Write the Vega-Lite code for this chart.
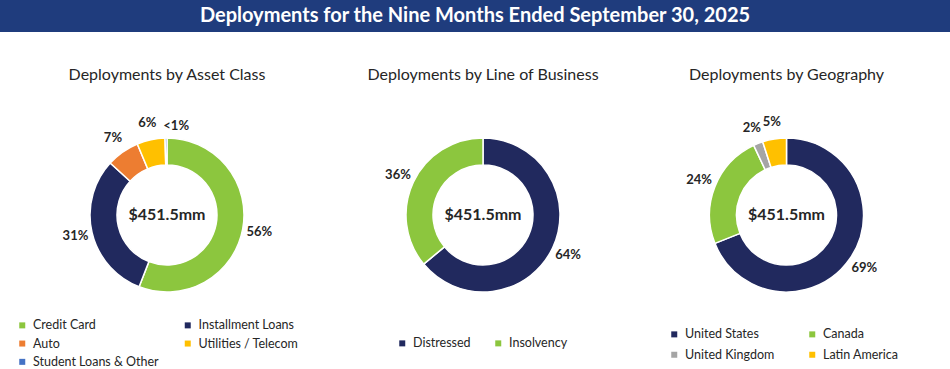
{
  "$schema": "https://vega.github.io/schema/vega-lite/v6.json",
  "padding": 0,
  "background": "white",
  "spacing": 35,
  "config": {
    "font": "Lato",
    "view": {"stroke": null},
    "title": {"fontSize": 16, "fontWeight": "normal", "color": "#262626", "anchor": "middle", "font": "Lato", "offset": 2},
    "legend": {"orient": "none", "columns": 2, "symbolType": "square", "symbolSize": 36, "symbolStrokeWidth": 0, "labelFontSize": 12.5, "labelColor": "#262626", "labelFont": "Lato", "labelOffset": 4.5, "padding": 0, "title": null}
  },
  "datasets": {
    "header": [{"t": "Deployments for the Nine Months Ended September 30, 2025"}],
    "asset": [
      {"i": 1, "category": "Credit Card", "value": 55.9, "label": "56%"},
      {"i": 2, "category": "Installment Loans", "value": 30.9, "label": "31%"},
      {"i": 3, "category": "Auto", "value": 6.9, "label": "7%"},
      {"i": 4, "category": "Utilities / Telecom", "value": 5.9, "label": "6%"},
      {"i": 5, "category": "Student Loans & Other", "value": 0.4, "label": "<1%"}
    ],
    "lob": [
      {"i": 1, "category": "Distressed", "value": 64, "label": "64%"},
      {"i": 2, "category": "Insolvency", "value": 36, "label": "36%"}
    ],
    "geo": [
      {"i": 1, "category": "United States", "value": 69, "label": "69%"},
      {"i": 2, "category": "Canada", "value": 24, "label": "24%"},
      {"i": 3, "category": "United Kingdom", "value": 2, "label": "2%"},
      {"i": 4, "category": "Latin America", "value": 5, "label": "5%"}
    ],
    "total": [{"t": "$451.5mm"}]
  },
  "resolve": {"scale": {"color": "independent", "theta": "independent"}, "legend": {"color": "independent"}},
  "vconcat": [
    {
      "data": {"name": "header"},
      "width": 950,
      "height": 32,
      "view": {"fill": "#1f3c7d", "stroke": null},
      "mark": {"type": "text", "color": "white", "fontSize": 20, "fontWeight": "bold", "font": "Lato"},
      "encoding": {"text": {"field": "t", "type": "nominal"}}
    },
    {
      "spacing": 0,
      "resolve": {"scale": {"color": "independent", "theta": "independent"}, "legend": {"color": "independent"}},
      "hconcat": [
        {
          "width": 334,
          "height": 260,
          "title": "Deployments by Asset Class",
          "layer": [
            {
              "data": {"name": "asset"},
              "mark": {"type": "arc", "innerRadius": 50, "outerRadius": 77, "stroke": "white", "strokeWidth": 1.5},
              "encoding": {
                "theta": {"field": "value", "type": "quantitative", "stack": true},
                "order": {"field": "i", "type": "quantitative"},
                "color": {
                  "field": "category", "type": "nominal", "sort": null,
                  "scale": {"domain": ["Credit Card", "Auto", "Student Loans & Other", "Installment Loans", "Utilities / Telecom"], "range": ["#8cc63e", "#ed7d31", "#4472c4", "#21295e", "#ffc000"]},
                  "legend": {"legendX": 16, "legendY": 234, "columnPadding": 22.5, "rowPadding": 5.3}
                }
              }
            },
            {
              "data": {"name": "asset"},
              "transform": [{"filter": "datum.i != 5"}],
              "mark": {"type": "text", "radius": 94, "fontWeight": "bold", "fontSize": 13, "color": "#262626", "align": "center", "baseline": "middle"},
              "encoding": {
                "theta": {"field": "value", "type": "quantitative", "stack": true},
                "order": {"field": "i", "type": "quantitative"},
                "detail": {"field": "category", "type": "nominal"},
                "text": {"field": "label", "type": "nominal"}
              }
            },
            {
              "data": {"name": "asset"},
              "transform": [{"filter": "datum.i == 5"}],
              "mark": {"type": "text", "radius": 94, "dx": 8, "dy": 5, "fontWeight": "bold", "fontSize": 13, "color": "#262626", "align": "center", "baseline": "middle"},
              "encoding": {
                "theta": {"field": "value", "type": "quantitative", "stack": true},
                "text": {"field": "label", "type": "nominal"}
              }
            },
            {
              "data": {"name": "total"},
              "mark": {"type": "text", "fontWeight": "bold", "fontSize": 16, "color": "#262626"},
              "encoding": {"text": {"field": "t", "type": "nominal"}}
            }
          ]
        },
        {
          "width": 298,
          "height": 260,
          "title": "Deployments by Line of Business",
          "layer": [
            {
              "data": {"name": "lob"},
              "mark": {"type": "arc", "innerRadius": 50, "outerRadius": 77, "stroke": "white", "strokeWidth": 1.5},
              "encoding": {
                "theta": {"field": "value", "type": "quantitative", "stack": true},
                "order": {"field": "i", "type": "quantitative"},
                "color": {
                  "field": "category", "type": "nominal", "sort": null,
                  "scale": {"domain": ["Distressed", "Insolvency"], "range": ["#21295e", "#8cc63e"]},
                  "legend": {"legendX": 62, "legendY": 252, "columnPadding": 21, "rowPadding": 5.3}
                }
              }
            },
            {
              "data": {"name": "lob"},
              "mark": {"type": "text", "radius": 94, "fontWeight": "bold", "fontSize": 13, "color": "#262626", "align": "center", "baseline": "middle"},
              "encoding": {
                "theta": {"field": "value", "type": "quantitative", "stack": true},
                "order": {"field": "i", "type": "quantitative"},
                "detail": {"field": "category", "type": "nominal"},
                "text": {"field": "label", "type": "nominal"}
              }
            },
            {
              "data": {"name": "total"},
              "mark": {"type": "text", "fontWeight": "bold", "fontSize": 16, "color": "#262626"},
              "encoding": {"text": {"field": "t", "type": "nominal"}}
            }
          ]
        },
        {
          "width": 309,
          "height": 260,
          "title": "Deployments by Geography",
          "layer": [
            {
              "data": {"name": "geo"},
              "mark": {"type": "arc", "innerRadius": 50, "outerRadius": 77, "stroke": "white", "strokeWidth": 1.5},
              "encoding": {
                "theta": {"field": "value", "type": "quantitative", "stack": true},
                "order": {"field": "i", "type": "quantitative"},
                "color": {
                  "field": "category", "type": "nominal", "sort": null,
                  "scale": {"domain": ["United States", "United Kingdom", "Canada", "Latin America"], "range": ["#21295e", "#a5a5a5", "#8cc63e", "#ffc000"]},
                  "legend": {"legendX": 36, "legendY": 243, "columnPadding": 31, "rowPadding": 7.5}
                }
              }
            },
            {
              "data": {"name": "geo"},
              "mark": {"type": "text", "radius": 94, "fontWeight": "bold", "fontSize": 13, "color": "#262626", "align": "center", "baseline": "middle"},
              "encoding": {
                "theta": {"field": "value", "type": "quantitative", "stack": true},
                "order": {"field": "i", "type": "quantitative"},
                "detail": {"field": "category", "type": "nominal"},
                "text": {"field": "label", "type": "nominal"}
              }
            },
            {
              "data": {"name": "total"},
              "mark": {"type": "text", "fontWeight": "bold", "fontSize": 16, "color": "#262626"},
              "encoding": {"text": {"field": "t", "type": "nominal"}}
            }
          ]
        }
      ]
    }
  ]
}
